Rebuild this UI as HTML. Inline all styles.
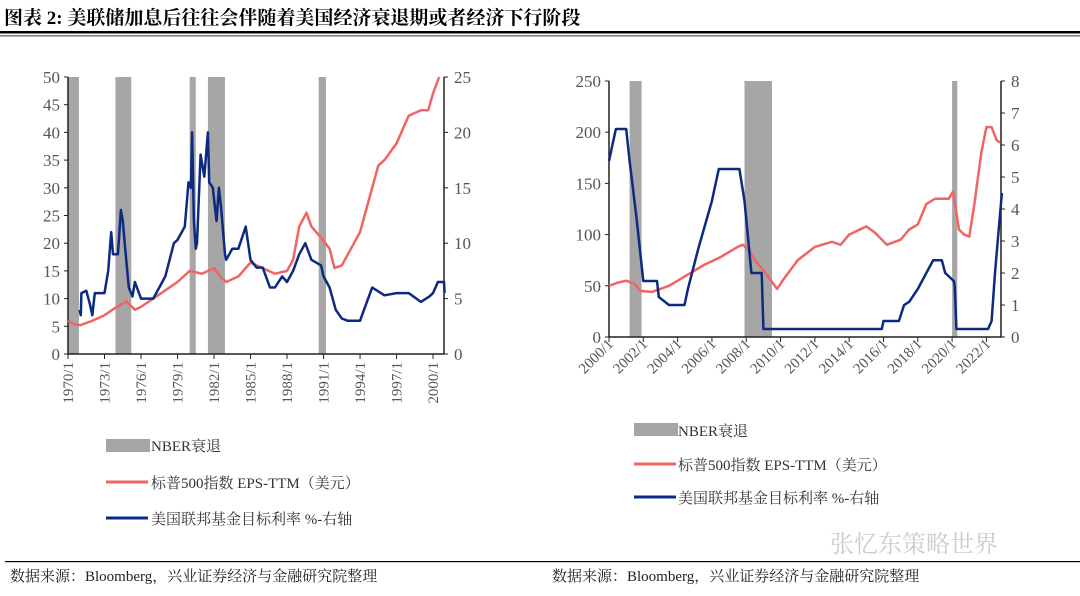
<!DOCTYPE html>
<html><head><meta charset="utf-8"><style>
html,body{margin:0;padding:0;background:#fff;}
body{width:1080px;height:591px;overflow:hidden;position:relative;font-family:"Liberation Serif","Noto Serif CJK SC",serif;}
svg text{font-family:"Liberation Serif","Noto Serif CJK SC",serif;}
</style></head><body>
<svg id="c" width="1080" height="591" xmlns="http://www.w3.org/2000/svg">
<text x="4" y="24" font-size="19" font-weight="bold" fill="#000">图表 2:  美联储加息后往往会伴随着美国经济衰退期或者经济下行阶段</text>
<rect x="0" y="31" width="1080" height="2.5" fill="#000"/>
<rect x="0" y="35.5" width="1080" height="0.8" fill="#000"/>
<g id="L"></g>
<g id="R"></g>
<g>
<rect x="106" y="439" width="44" height="13" fill="#a6a6a6"/>
<text x="151" y="451" font-size="15" fill="#333">NBER衰退</text>
<line x1="106" y1="482" x2="148" y2="482" stroke="#f06464" stroke-width="3"/>
<text x="151" y="488" font-size="15" fill="#333">标普500指数 EPS-TTM（美元）</text>
<line x1="106" y1="518" x2="148" y2="518" stroke="#0d2a82" stroke-width="3"/>
<text x="151" y="524" font-size="15" fill="#333">美国联邦基金目标利率 %-右轴</text>
</g>
<g>
<rect x="634" y="423" width="44" height="13" fill="#a6a6a6"/>
<text x="678" y="436" font-size="15" fill="#333">NBER衰退</text>
<line x1="634" y1="464" x2="676" y2="464" stroke="#f06464" stroke-width="3"/>
<text x="678" y="470" font-size="15" fill="#333">标普500指数 EPS-TTM（美元）</text>
<line x1="634" y1="497" x2="676" y2="497" stroke="#0d2a82" stroke-width="3"/>
<text x="678" y="503" font-size="15" fill="#333">美国联邦基金目标利率 %-右轴</text>
</g>
<text x="830" y="552" font-size="24" fill="#ccc" font-family="Liberation Sans,Noto Sans CJK SC,sans-serif">张忆东策略世界</text>
<rect x="5" y="561" width="1075" height="1.2" fill="#000"/>
<text x="10" y="581" font-size="15" fill="#222">数据来源：Bloomberg，兴业证券经济与金融研究院整理</text>
<text x="552" y="581" font-size="15" fill="#222">数据来源：Bloomberg，兴业证券经济与金融研究院整理</text>
</svg>
<script>
// Left chart data
const lRecStart=[1970.0,1973.9,1980.0,1981.5,1990.6];
const lRecEnd=[1970.9,1975.2,1980.5,1982.9,1991.2];
const lEpsX=[1970,1970.5,1971,1972,1973,1974,1974.8,1975.5,1976,1977,1978,1979,1980,1981,1982,1982.5,1983,1984,1985,1986,1987,1988,1988.5,1989,1989.6,1990,1990.8,1991.5,1991.9,1992.5,1993,1994,1994.5,1995,1995.5,1996,1997,1998,1999,1999.6,2000,2000.5];
const lEpsY=[6,5.4,5.2,6,7,8.5,9.5,8,8.5,10,11.5,13,15,14.5,15.5,14,13,14,16.5,15.5,14.5,15,17,23,25.5,23,21,19,15.5,16,18,22,26,30,34,35,38,43,44,44,47,50];
const lFedX=[1970.95,1971.05,1971.1,1971.5,1971.8,1972,1972.2,1973,1973.3,1973.55,1973.7,1974.1,1974.35,1974.5,1974.7,1975,1975.3,1975.5,1976,1977,1977.5,1978,1978.7,1979,1979.6,1979.9,1980.1,1980.2,1980.35,1980.5,1980.6,1980.9,1981.2,1981.5,1981.6,1981.9,1982.2,1982.4,1982.6,1982.9,1983,1983.5,1984,1984.6,1984.8,1985,1985.5,1986,1986.6,1987,1987.6,1988,1988.5,1989,1989.5,1990,1990.8,1991,1991.5,1992,1992.5,1993,1994,1994.5,1995,1996,1997,1998,1999,1999.7,2000,2000.4,2000.9,2000.95];
const lFedY=[4,3.5,5.5,5.7,4.5,3.5,5.5,5.5,7.5,11,9,9,13,12,9.5,6,5.2,6.5,5,5,6,7,10,10.3,11.5,15.5,15,20,12,9.5,10,18,16,20,15.5,15,12,15,13,9,8.5,9.5,9.5,11.5,10,8.5,7.8,7.8,6,6,7,6.5,7.5,9,10,8.5,8,7,6,4,3.2,3,3,4.5,6,5.3,5.5,5.5,4.7,5.2,5.5,6.5,6.5,5.5];
const lXTicks=["1970/1","1973/1","1976/1","1979/1","1982/1","1985/1","1988/1","1991/1","1994/1","1997/1","2000/1"];
const lYTicks=[0,5,10,15,20,25,30,35,40,45,50];
const lY2Ticks=[0,5,10,15,20,25];
// Right chart data
const rRecStart=[2001.2,2007.9,2020.0];
const rRecEnd=[2001.9,2009.5,2020.3];
const rEpsX=[2000,2000.5,2001,2001.5,2001.8,2002.5,2003,2003.5,2004.5,2005.5,2006.5,2007.5,2007.8,2008.2,2008.5,2009,2009.8,2010.2,2011,2012,2013,2013.5,2014,2015,2015.5,2016.2,2017,2017.5,2018,2018.5,2019,2019.8,2020.05,2020.4,2020.7,2021,2021.3,2021.7,2022,2022.3,2022.6,2022.8];
const rEpsY=[50,53,55,52,45,44,47,50,60,70,78,88,90,84,75,65,47,57,75,88,93,90,100,108,102,90,95,105,110,130,135,135,142,105,100,98,130,180,205,205,192,190];
const rFedX=[2000,2000.2,2000.4,2001,2001.2,2001.6,2002,2002.8,2002.9,2003.5,2004.4,2004.6,2005.2,2006.0,2006.4,2007.6,2007.9,2008.3,2008.9,2009.0,2015.9,2016.0,2016.9,2017.2,2017.5,2018,2018.9,2019.4,2019.6,2020.1,2020.15,2020.25,2022.1,2022.3,2022.5,2022.7,2022.9];
const rFedY=[5.5,6,6.5,6.5,5.5,3.75,1.75,1.75,1.25,1,1,1.5,2.75,4.25,5.25,5.25,4.25,2,2,0.25,0.25,0.5,0.5,1,1.1,1.5,2.4,2.4,2,1.75,1.6,0.25,0.25,0.5,2,3.25,4.5];
const rXTicks=["2000/1","2002/1","2004/1","2006/1","2008/1","2010/1","2012/1","2014/1","2016/1","2018/1","2020/1","2022/1"];
const rYTicks=[0,50,100,150,200,250];
const rY2Ticks=[0,1,2,3,4,5,6,7,8];

const NS="http://www.w3.org/2000/svg";
function mk(p,t,a){const e=document.createElementNS(NS,t);for(const k in a)e.setAttribute(k,a[k]);p.appendChild(e);return e;}
function chart(g,cfg){
 const {x0,x1,y0,y1,t0,t1,ymax,y2max}=cfg;
 const X=t=>x0+(t-t0)/(t1-t0)*(x1-x0);
 const Y=v=>y0-v/ymax*(y0-y1);
 const Y2=v=>y0-v/y2max*(y0-y1);
 cfg.rs.forEach((s,i)=>{const r=mk(g,'rect',{x:X(s),y:y1,width:X(cfg.re[i])-X(s),height:y0-y1,fill:'#a6a6a6'});
  
  });
 const ax=mk(g,'path',{d:`M${x0},${y1}V${y0}H${x1}V${y1}`,stroke:'#222',fill:'none','stroke-width':1.5});
 
 
 const ed=mk(g,'path',{d:cfg.ex.map((t,i)=>(i?'L':'M')+X(t).toFixed(1)+','+Y(cfg.ey[i]).toFixed(1)).join(''),stroke:'#f06464',fill:'none','stroke-width':2.5,'stroke-linejoin':'round'});
 
 
 const fd=mk(g,'path',{d:cfg.fx.map((t,i)=>(i?'L':'M')+X(t).toFixed(1)+','+Y2(cfg.fy[i]).toFixed(1)).join(''),stroke:'#0d2a82',fill:'none','stroke-width':2.5,'stroke-linejoin':'round'});
 
 
 cfg.yt.forEach(v=>{mk(g,'line',{x1:x0-4,x2:x0,y1:Y(v),y2:Y(v),stroke:'#222'});
  const t=mk(g,'text',{x:x0-8,y:Y(v)+6,'font-size':17,'text-anchor':'end',fill:'#555'});t.textContent=v;
  
  });
 cfg.y2t.forEach(v=>{mk(g,'line',{x1:x1,x2:x1+4,y1:Y2(v),y2:Y2(v),stroke:'#222'});
  const t=mk(g,'text',{x:x1+10,y:Y2(v)+6,'font-size':17,fill:'#555'});t.textContent=v;
  
  });
 cfg.xt.forEach((lab,i)=>{const tt=t0+i*cfg.step;const px=X(tt);
  mk(g,'line',{x1:px,x2:px,y1:y0,y2:y0+5,stroke:'#222'});
  const t=mk(g,'text',{'font-size':15,'text-anchor':'end',fill:'#555',transform:`translate(${px+5},${y0+8}) rotate(${cfg.rot})`});t.textContent=lab;
  
  });
}
chart(document.getElementById('L'),{x0:68,x1:444,y0:354,y1:77,t0:1970,t1:2000.9,ymax:50,y2max:25,step:3,rot:-90,
 rs:lRecStart,re:lRecEnd,ex:lEpsX,ey:lEpsY,fx:lFedX,fy:lFedY,xt:lXTicks,yt:lYTicks,y2t:lY2Ticks});
chart(document.getElementById('R'),{x0:609,x1:1001,y0:337,y1:81,t0:2000,t1:2022.85,ymax:250,y2max:8,step:2,rot:-45,
 rs:rRecStart,re:rRecEnd,ex:rEpsX,ey:rEpsY,fx:rFedX,fy:rFedY,xt:rXTicks,yt:rYTicks,y2t:rY2Ticks});
</script>
</body></html>
